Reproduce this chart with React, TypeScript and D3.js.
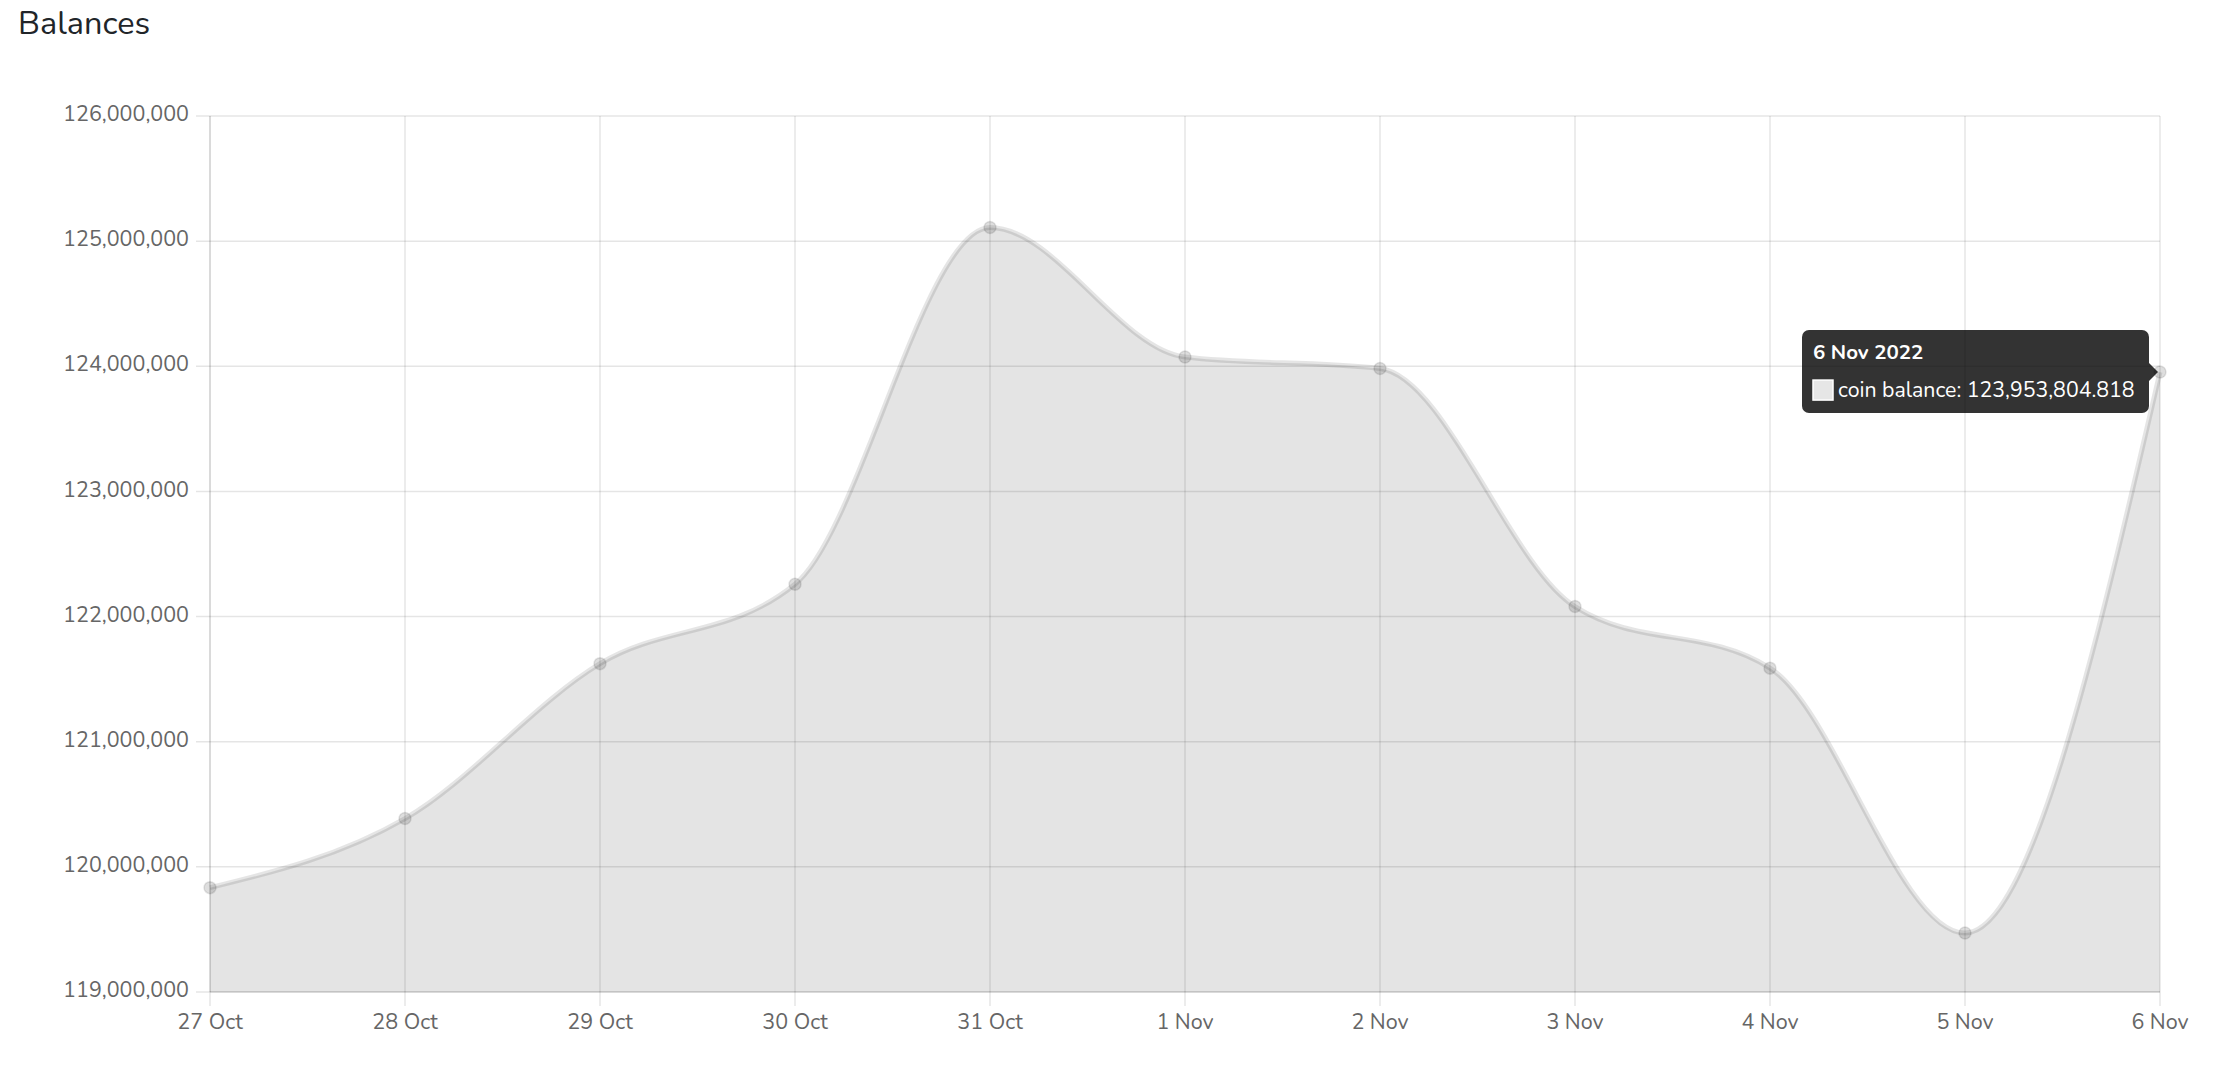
import React from 'react';
import * as d3 from 'd3';

// Daily balances
const DAY_LABELS = ['27 Oct', '28 Oct', '29 Oct', '30 Oct', '31 Oct', '1 Nov', '2 Nov', '3 Nov', '4 Nov', '5 Nov', '6 Nov'];
const BALANCES = [
  119834000, 120386000, 121624000, 122258000, 125109000, 124074000,
  123982000, 122080000, 121588000, 119471000, 123953804.818,
];
const Y_TICKS = [119000000, 120000000, 121000000, 122000000, 123000000, 124000000, 125000000, 126000000];
const TOOLTIP_INDEX = 10;
const TOOLTIP_TITLE = '6 Nov 2022';
const SERIES_NAME = 'coin balance';

const WIDTH = 2228;
const HEIGHT = 1078;
const FONT = "Nunito, 'Open Sans', sans-serif";
const GRID = 'rgba(0,0,0,0.1)';

export default function App() {
  const margin = { top: 116, right: 68, bottom: 86, left: 210 };
  const left = margin.left;
  const right = WIDTH - margin.right;
  const top = margin.top;
  const bottom = HEIGHT - margin.bottom;

  const xScale = d3.scalePoint<string>().domain(DAY_LABELS).range([left, right]);
  const yScale = d3.scaleLinear().domain([119000000, 126000000]).range([bottom, top]);
  const fmtTick = d3.format(',');
  const fmtValue = d3.format(',.3f');

  const rows = BALANCES.map((v, i) => ({ day: DAY_LABELS[i], value: v }));

  // monotone interpolation keeps peaks on the data points
  const line = d3.line<{ day: string; value: number }>()
    .x(d => xScale(d.day)!)
    .y(d => yScale(d.value))
    .curve(d3.curveMonotoneX);
  const area = d3.area<{ day: string; value: number }>()
    .x(d => xScale(d.day)!)
    .y0(bottom)
    .y1(d => yScale(d.value))
    .curve(d3.curveMonotoneX);

  // tooltip geometry
  const tpx = xScale(DAY_LABELS[TOOLTIP_INDEX])!;
  const tpy = yScale(BALANCES[TOOLTIP_INDEX]);
  const boxW = 347;
  const boxH = 83;
  const boxX = tpx - 11 - boxW;
  const boxY = tpy - 42;

  return (
    <svg
      width={WIDTH}
      height={HEIGHT}
      style={{ position: 'fixed', left: 0, top: 0, background: '#fff', fontFamily: FONT }}
    >
      <text x={18} y={34} fontSize={32.5} fill="#212529">Balances</text>

      {/* horizontal grid + y ticks */}
      {Y_TICKS.map(t => (
        <g key={`y${t}`}>
          <line x1={left - 14} x2={right} y1={yScale(t)} y2={yScale(t)} stroke={GRID} strokeWidth={1.5} />
          <text
            x={189}
            y={yScale(t)}
            textAnchor="end"
            dominantBaseline="middle"
            fontSize={21.5}
            fill="#666"
          >
            {fmtTick(t)}
          </text>
        </g>
      ))}

      {/* vertical grid + x ticks */}
      {DAY_LABELS.map(d => (
        <g key={`x${d}`}>
          <line x1={xScale(d)} x2={xScale(d)} y1={top} y2={bottom + 14} stroke={GRID} strokeWidth={1.5} />
          <text
            x={xScale(d)}
            y={1024}
            textAnchor="middle"
            dominantBaseline="middle"
            fontSize={21.5}
            fill="#666"
          >
            {d}
          </text>
        </g>
      ))}

      {/* axis borders */}
      <line x1={left} x2={left} y1={top} y2={bottom} stroke={GRID} strokeWidth={1.5} />
      <line x1={left} x2={right} y1={bottom} y2={bottom} stroke={GRID} strokeWidth={1.5} />

      {/* series */}
      <path d={area(rows) || ''} fill="rgba(0,0,0,0.105)" />
      <path d={line(rows) || ''} fill="none" stroke="rgba(0,0,0,0.1)" strokeWidth={5} />
      {rows.map((r, i) => (
        <circle
          key={i}
          cx={xScale(r.day)}
          cy={yScale(r.value)}
          r={6}
          fill="rgba(0,0,0,0.13)"
          stroke="rgba(0,0,0,0.1)"
          strokeWidth={1.5}
        />
      ))}

      {/* tooltip */}
      <g>
        <rect x={boxX} y={boxY} width={boxW} height={boxH} rx={7} fill="rgba(0,0,0,0.8)" />
        <path
          d={`M${boxX + boxW},${tpy - 9}L${tpx - 2},${tpy}L${boxX + boxW},${tpy + 9}Z`}
          fill="rgba(0,0,0,0.8)"
        />
        <text x={boxX + 11} y={boxY + 29} fontSize={20.5} fontWeight="bold" fill="#fff">
          {TOOLTIP_TITLE}
        </text>
        <rect x={boxX + 11} y={boxY + 50} width={20} height={20} fill="#e6e6e6" stroke="#fff" strokeWidth={1.5} />
        <text x={boxX + 36} y={boxY + 67} fontSize={21.3} fill="#fff">
          {`${SERIES_NAME}: ${fmtValue(BALANCES[TOOLTIP_INDEX])}`}
        </text>
      </g>
    </svg>
  );
}
